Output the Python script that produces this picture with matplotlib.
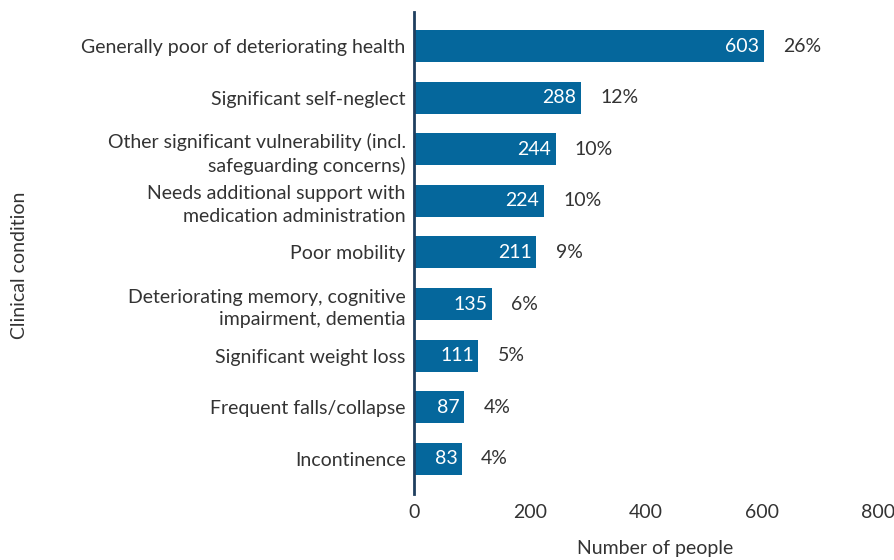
import numpy as np
import matplotlib.pyplot as plt

plt.rcParams['font.family'] = ['Lato', 'DejaVu Sans']

categories = ['Generally poor of deteriorating health',
              'Significant self-neglect',
              'Other significant vulnerability (incl.\nsafeguarding concerns)',
              'Needs additional support with\nmedication administration',
              'Poor mobility',
              'Deteriorating memory, cognitive\nimpairment, dementia',
              'Significant weight loss',
              'Frequent falls/collapse',
              'Incontinence']
counts = [603, 288, 244, 224, 211, 135, 111, 87, 83]
percents = ['26%', '12%', '10%', '10%', '9%', '6%', '5%', '4%', '4%']
xticks = [0, 200, 400, 600, 800]

barColor = '#05679c'
textColor = '#333333'
fs = 14

fig = plt.figure(figsize=(8.94, 5.6), dpi=100)
ax = fig.add_axes([414 / 894, 1 - 494 / 560, (878 - 414) / 894, (494 - 12) / 560])

y = np.arange(len(categories))
ax.barh(y, counts, height=0.62, color=barColor)

# angka di dalam batang, persen di luar
for yi, n, p in zip(y, counts, percents):
    ax.text(n - 8, yi, str(n), ha='right', va='center', color='white', fontsize=fs)
    ax.text(n + 33, yi, p, ha='left', va='center', color=textColor, fontsize=fs)

ax.set_yticks(y)
ax.set_yticklabels(categories, fontsize=fs, color=textColor, ha='right', linespacing=1.4)
ax.set_xticks(xticks)
ax.set_xticklabels([str(t) for t in xticks], fontsize=fs, color=textColor)
ax.set_xlim(0, 800)
ax.set_ylim(len(categories) - 1 + 0.68, -0.66)
ax.tick_params(axis='both', length=0)
ax.tick_params(axis='x', pad=7)
ax.tick_params(axis='y', pad=6)

for s in ['top', 'right', 'bottom']:
    ax.spines[s].set_visible(False)
ax.spines['left'].set_color('#1f3f5f')
ax.spines['left'].set_linewidth(2)

ax.set_xlabel('Number of people', fontsize=fs, color=textColor)
ax.xaxis.set_label_coords((655 - 414) / 464, -(540 - 494) / 482)
fig.text(20 / 894, 1 - 265 / 560, 'Clinical condition', rotation=90, ha='center', va='center',
         fontsize=fs, color=textColor)

fig.savefig('out.png', dpi=100)
